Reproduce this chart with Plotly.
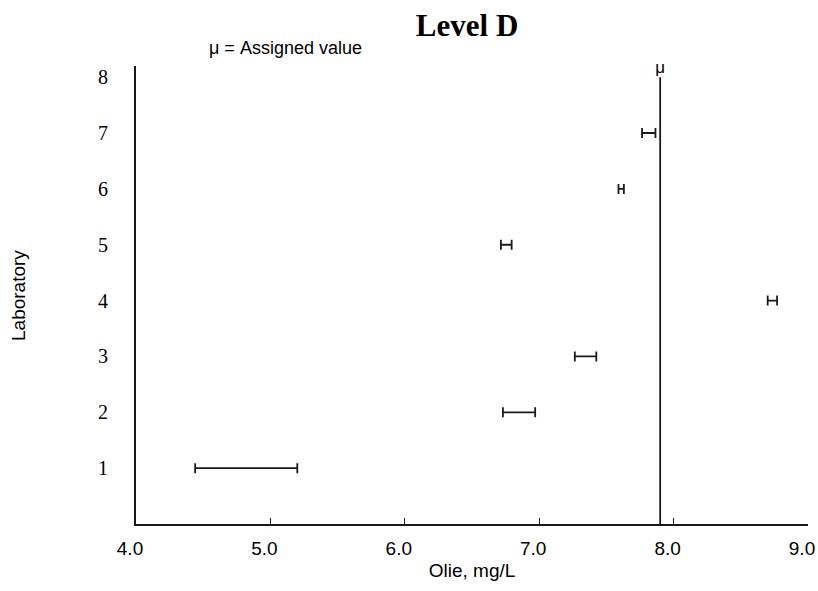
import plotly.graph_objects as go

labs = [1, 2, 3, 4, 5, 6, 7]
means = [4.82, 6.85, 7.345, 8.735, 6.755, 7.61, 7.815]
uncert = [0.38, 0.12, 0.08, 0.035, 0.04, 0.02, 0.05]
assigned = 7.9
x_ticks = [4, 5, 6, 7, 8, 9]
x_ticklabels = ["4.0", "5.0", "6.0", "7.0", "8.0", "9.0"]
y_ticks = [1, 2, 3, 4, 5, 6, 7, 8]

fig = go.Figure()
fig.add_trace(go.Scatter(
    x=means, y=labs, mode="markers",
    marker=dict(size=1, color="rgba(0,0,0,0)"),
    error_x=dict(type="data", array=uncert, visible=True, color="#1a1a1a", thickness=1.8, width=5),
    showlegend=False, hoverinfo="x+y"))
fig.add_trace(go.Scatter(
    x=[assigned, assigned], y=[0, 8], mode="lines",
    line=dict(color="#1a1a1a", width=1.8), showlegend=False, hoverinfo="skip"))
fig.add_trace(go.Scatter(
    x=[assigned], y=[8], mode="text", text=["μ"], textposition="top center",
    textfont=dict(family="Arial, Liberation Sans", size=17, color="#000"),
    showlegend=False, hoverinfo="skip", cliponaxis=False))

fig.update_layout(
    width=818, height=591,
    margin=dict(l=136, r=10, t=66, b=67),
    paper_bgcolor="white", plot_bgcolor="white",
    title=dict(text="<b>Level D</b>", x=0.571, xanchor="center", y=0.958, yanchor="middle",
               font=dict(family="Liberation Serif, Times New Roman, serif", size=31, color="#000")),
    xaxis=dict(range=[4, 9], tickvals=x_ticks, ticktext=x_ticklabels, showgrid=False, zeroline=False,
               showline=True, linecolor="#1a1a1a", linewidth=1.8, ticks="inside", ticklen=6,
               tickwidth=1.4, tickcolor="#1a1a1a", ticklabelstandoff=6, ticklabeloverflow="allow",
               ticklabelshift=-6, automargin=False,
               tickfont=dict(family="Arial, Liberation Sans", size=19, color="#000"),
               title=dict(text="Olie, mg/L", standoff=6,
                          font=dict(family="Arial, Liberation Sans", size=19, color="#000"))),
    yaxis=dict(range=[0, 8.2], tickvals=y_ticks, showgrid=False, zeroline=False,
               showline=True, linecolor="#1a1a1a", linewidth=1.8, ticks="",
               ticklabelstandoff=22, automargin=False,
               tickfont=dict(family="Liberation Serif, Times New Roman, serif", size=20, color="#000"),
               title=None),
    annotations=[
        dict(text="μ = Assigned value", xref="paper", yref="paper", x=0.105, y=1.0, xanchor="left",
             yanchor="bottom", yshift=6, showarrow=False,
             font=dict(family="Arial, Liberation Sans", size=18, color="#000")),
        dict(text="Laboratory", xref="paper", yref="paper", x=-0.1756, y=0.5, textangle=-90,
             xanchor="center", yanchor="middle", showarrow=False,
             font=dict(family="Arial, Liberation Sans", size=19, color="#000")),
    ],
)
fig.write_html("out.html")
